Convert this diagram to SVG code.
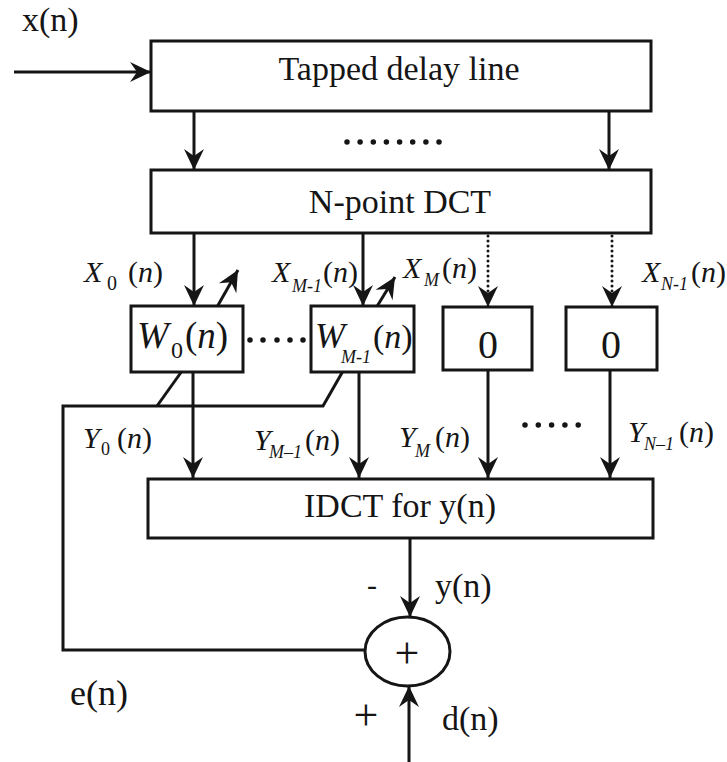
<svg xmlns="http://www.w3.org/2000/svg" width="727" height="762" viewBox="0 0 727 762" font-family="'Liberation Serif', 'DejaVu Serif', serif">
<style>
.box{fill:#fff;stroke:#151515;stroke-width:3}
.ln{fill:none;stroke:#151515;stroke-width:3}
.arr{marker-end:url(#ah)}
.dot{fill:none;stroke:#151515;stroke-width:3;stroke-dasharray:0 5;stroke-linecap:round}
.dots{fill:none;stroke:#151515;stroke-width:5.5;stroke-linecap:round}
text{font-family:'Liberation Serif','DejaVu Serif',serif;fill:#151515}
.i{font-style:italic}
</style>
<defs>
<marker id="ah" viewBox="-22 -11 24 22" refX="0" refY="0" markerWidth="24" markerHeight="22" markerUnits="userSpaceOnUse" orient="auto">
<path d="M0,0 L-21,-10 L-14,0 L-21,10 Z" fill="#151515"/>
</marker>
</defs>
<rect width="727" height="762" fill="#fff"/>

<g id="connectors">
<line class="ln arr" x1="14" y1="72" x2="151" y2="72"/>
<line class="ln arr" x1="194" y1="111" x2="194" y2="170"/>
<line class="ln arr" x1="609" y1="111" x2="609" y2="170"/>
<line class="ln arr" x1="194" y1="233" x2="194" y2="306"/>
<line class="ln arr" x1="363" y1="233" x2="363" y2="306"/>
<line class="dot arr" x1="488" y1="236" x2="488" y2="307"/>
<line class="dot arr" x1="612" y1="236" x2="612" y2="307"/>
<line class="ln arr" x1="217" y1="307" x2="238" y2="270"/>
<line class="ln arr" x1="376" y1="308" x2="395" y2="277"/>
<line class="ln arr" x1="193" y1="372" x2="193" y2="478"/>
<line class="ln arr" x1="359" y1="372" x2="359" y2="478"/>
<line class="ln arr" x1="488" y1="370" x2="488" y2="478"/>
<line class="ln arr" x1="610" y1="370" x2="610" y2="478"/>
<line class="ln arr" x1="410" y1="538" x2="410" y2="617"/>
<line class="ln arr" x1="409" y1="762" x2="409" y2="686"/>
<polyline class="ln" points="365,650 63,650 63,406 323,406 343,371"/>
<line class="ln" x1="157" y1="406" x2="182" y2="371"/>
</g>

<g id="tapped_delay_line">
<rect class="box" x="151" y="41" width="500" height="70"/>
<text x="399" y="80" font-size="34" text-anchor="middle">Tapped delay line</text>
</g>
<g id="delay_dots">
<path class="dots" d="M347,142h0M360.1,142h0M373.3,142h0M386.4,142h0M399.6,142h0M412.7,142h0M425.9,142h0M439,142h0"/>
</g>
<g id="n_point_dct">
<rect class="box" x="151" y="170" width="500" height="63"/>
<text x="400" y="213" font-size="34" text-anchor="middle">N-point DCT</text>
</g>

<g id="label_x">
<text x="22" y="31" font-size="34">x(n)</text>
</g>

<g id="label_X0">
<text class="i" x="84" y="282" font-size="30">X</text>
<text x="107" y="290" font-size="20">0</text>
<text x="128" y="282" font-size="30">(<tspan class="i">n</tspan>)</text>
</g>
<g id="label_XM1">
<text class="i" x="272" y="282" font-size="30">X</text>
<text class="i" x="292" y="292" font-size="18">M-1</text>
<text x="323" y="282" font-size="30">(<tspan class="i">n</tspan>)</text>
</g>
<g id="label_XM">
<text class="i" x="403" y="278" font-size="30">X</text>
<text class="i" x="424" y="286" font-size="18">M</text>
<text x="442" y="278" font-size="30">(<tspan class="i">n</tspan>)</text>
</g>
<g id="label_XN1">
<text class="i" x="642" y="282" font-size="30">X</text>
<text class="i" x="661" y="290" font-size="18">N-1</text>
<text x="691" y="282" font-size="30">(<tspan class="i">n</tspan>)</text>
</g>

<g id="W0">
<rect class="box" x="131" y="306" width="112" height="66"/>
<text class="i" x="137" y="348" font-size="38">W</text>
<text x="171" y="358" font-size="24">0</text>
<text x="185" y="348" font-size="37">(<tspan class="i">n</tspan>)</text>
</g>
<g id="w_dots">
<path class="dots" d="M250,340h0M263,340h0M277,340h0M290,340h0M303,340h0"/>
</g>
<g id="WM1">
<rect class="box" x="311" y="306" width="103" height="66"/>
<text class="i" x="315" y="348" font-size="36">W</text>
<text class="i" x="341" y="363" font-size="18">M-1</text>
<text x="373" y="348" font-size="34">(<tspan class="i">n</tspan>)</text>
</g>
<g id="zero_M">
<rect class="box" x="443" y="307" width="89" height="63"/>
<text x="488" y="358" font-size="40" text-anchor="middle">0</text>
</g>
<g id="zero_N1">
<rect class="box" x="566" y="307" width="91" height="63"/>
<text x="611" y="358" font-size="40" text-anchor="middle">0</text>
</g>

<g id="label_Y0">
<text class="i" x="83" y="448" font-size="30">Y</text>
<text x="101" y="455" font-size="18">0</text>
<text x="117" y="448" font-size="30">(<tspan class="i">n</tspan>)</text>
</g>
<g id="label_YM1">
<text class="i" x="254" y="450" font-size="30">Y</text>
<text class="i" x="269" y="458" font-size="18">M–1</text>
<text x="305" y="450" font-size="30">(<tspan class="i">n</tspan>)</text>
</g>
<g id="label_YM">
<text class="i" x="399" y="447" font-size="30">Y</text>
<text class="i" x="415" y="457" font-size="18">M</text>
<text x="435" y="447" font-size="30">(<tspan class="i">n</tspan>)</text>
</g>
<g id="y_dots">
<path class="dots" d="M525,425h0M538.3,425h0M551.6,425h0M564.9,425h0M578.2,425h0"/>
</g>
<g id="label_YN1">
<text class="i" x="628" y="442" font-size="30">Y</text>
<text class="i" x="644" y="450" font-size="18">N–1</text>
<text x="679" y="442" font-size="30">(<tspan class="i">n</tspan>)</text>
</g>

<g id="idct">
<rect class="box" x="148" y="479" width="505" height="59"/>
<text x="400" y="517" font-size="34" text-anchor="middle">IDCT for y(n)</text>
</g>

<g id="label_y">
<text x="372" y="595" font-size="30" text-anchor="middle">-</text>
<text x="435" y="597" font-size="34">y(n)</text>
</g>

<g id="sum">
<ellipse class="box" cx="407.5" cy="651.5" rx="42.5" ry="34.5"/>
<text x="407" y="668" font-size="44" text-anchor="middle">+</text>
</g>

<g id="label_e">
<text x="70" y="705" font-size="36">e(n)</text>
</g>
<g id="label_d">
<text x="366" y="730" font-size="44" text-anchor="middle">+</text>
<text x="442" y="730" font-size="34">d(n)</text>
</g>
</svg>
